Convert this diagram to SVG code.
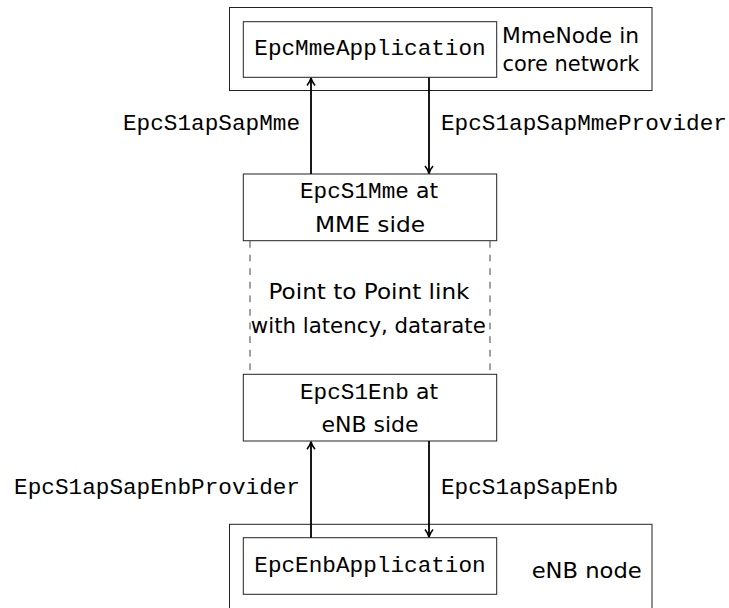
<svg xmlns="http://www.w3.org/2000/svg" width="729" height="608" viewBox="0 0 729 608">
<style>
.box{fill:#fff;stroke:#222;stroke-width:1}
.mono{font-family:"Liberation Mono","DejaVu Sans Mono",monospace;font-size:22.7px;fill:#000}
.sans{font-family:"DejaVu Sans","Liberation Sans",sans-serif;font-size:22px;fill:#000}
.arr{stroke:#000;stroke-width:1.8;fill:none;marker-end:url(#ah)}
.dash{stroke:#444;stroke-width:1;stroke-dasharray:6.8 6.8;fill:none}
</style>
<defs>
<marker id="ah" viewBox="0 0 10 10" refX="9" refY="5" markerWidth="10" markerHeight="10" markerUnits="userSpaceOnUse" orient="auto">
<path d="M1.5,1 Q5,4 9,5 Q5,6 1.5,9" fill="none" stroke="#000" stroke-width="1.6"/>
</marker>
</defs>
<rect width="729" height="608" fill="#fff"/>
<g id="mmeNode">
<rect class="box" x="229.5" y="7.5" width="422.5" height="83"/>
<text class="sans" x="570.5" y="42.7" text-anchor="middle" textLength="137" lengthAdjust="spacingAndGlyphs">MmeNode in</text>
<text class="sans" x="571" y="70.7" text-anchor="middle" textLength="137" lengthAdjust="spacingAndGlyphs">core network</text>
</g>
<g id="mmeApp">
<rect class="box" x="243.3" y="21.7" width="253.4" height="55.6"/>
<text class="mono" x="370" y="55" text-anchor="middle">EpcMmeApplication</text>
</g>
<g id="s1Mme">
<rect class="box" x="243.3" y="174" width="253.4" height="66.7"/>
<text x="300" y="198.3"><tspan class="mono">EpcS1Mme</tspan><tspan class="sans"> at</tspan></text>
<text class="sans" x="370" y="231.7" text-anchor="middle" textLength="110" lengthAdjust="spacingAndGlyphs">MME side</text>
</g>
<g id="link">
<text class="sans" x="369" y="299.3" text-anchor="middle" textLength="201" lengthAdjust="spacingAndGlyphs">Point to Point link</text>
<text class="sans" x="368.3" y="333.3" text-anchor="middle" textLength="235" lengthAdjust="spacingAndGlyphs">with latency, datarate</text>
</g>
<g id="s1Enb">
<rect class="box" x="243.3" y="374.3" width="253.4" height="66.7"/>
<text x="300" y="399.3"><tspan class="mono">EpcS1Enb</tspan><tspan class="sans"> at</tspan></text>
<text class="sans" x="370" y="432.3" text-anchor="middle">eNB side</text>
</g>
<g id="enbNode">
<rect class="box" x="229.5" y="524.3" width="422.5" height="100"/>
<text class="sans" x="586.7" y="577.7" text-anchor="middle" textLength="110" lengthAdjust="spacingAndGlyphs">eNB node</text>
</g>
<g id="enbApp">
<rect class="box" x="243.3" y="537.7" width="253.4" height="56.6"/>
<text class="mono" x="370" y="571.5" text-anchor="middle">EpcEnbApplication</text>
</g>
<g id="connectors">
<line class="dash" x1="250" y1="241" x2="250" y2="374"/>
<line class="dash" x1="490" y1="241" x2="490" y2="374"/>
<line class="arr" x1="311" y1="174" x2="311" y2="78"/>
<line class="arr" x1="429" y1="77.5" x2="429" y2="173.5"/>
<line class="arr" x1="311" y1="537.7" x2="311" y2="441.7"/>
<line class="arr" x1="429" y1="441" x2="429" y2="537"/>
<text class="mono" x="300" y="130" text-anchor="end">EpcS1apSapMme</text>
<text class="mono" x="441" y="130">EpcS1apSapMmeProvider</text>
<text class="mono" x="300" y="494" text-anchor="end">EpcS1apSapEnbProvider</text>
<text class="mono" x="441" y="494">EpcS1apSapEnb</text>
</g>
</svg>
